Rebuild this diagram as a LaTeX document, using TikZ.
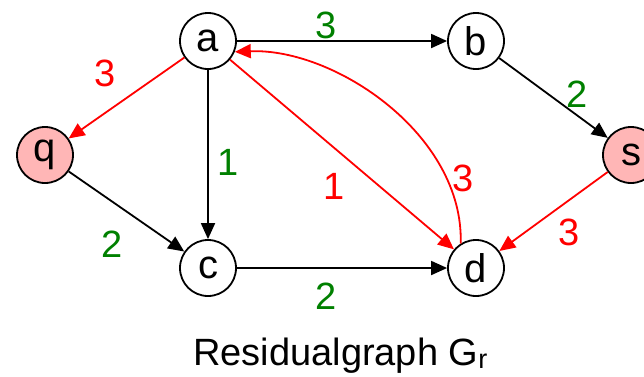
\documentclass[tikz,border=0pt]{standalone}
\usepackage{fontspec}
\setmainfont{Liberation Sans}
\usetikzlibrary{arrows.meta}
\definecolor{pinkfill}{RGB}{255,182,182}
\definecolor{lblgreen}{RGB}{0,128,0}
\definecolor{lblred}{RGB}{255,0,0}
\tikzset{
  bigfont/.style={font=\fontsize{38pt}{40pt}\selectfont},
  vert/.style={circle,draw=black,line width=1.8pt,minimum size=56pt,inner sep=0pt,font=\fontsize{40pt}{42pt}\selectfont,fill=white},
  endvert/.style={vert,fill=pinkfill},
  edgeblack/.style={draw=black,line width=1.8pt,-{Triangle[length=16pt,width=14pt]}},
  edgered/.style={draw=lblred,line width=1.8pt,-{Triangle[length=16pt,width=14pt]}},
  glabel/.style={bigfont,text=lblgreen,inner sep=0pt},
  rlabel/.style={bigfont,text=lblred,inner sep=0pt},
}
\begin{document}
\begin{tikzpicture}[x=1pt,y=-1pt]
\useasboundingbox (0,0) rectangle (644,376);
\node[vert] (a) at (208,41) {a};
\node[vert] (b) at (476,41) {b};
\node[endvert] (q) at (45,155) {q};
\node[endvert] (s) at (631,155) {s};
\node[vert] (c) at (208,268) {c};
\node[vert] (d) at (476,268) {d};

\draw[edgeblack] (a) -- (b);
\draw[edgeblack] (b) -- (s);
\draw[edgeblack] (a) -- (c);
\draw[edgeblack] (q) -- (c);
\draw[edgeblack] (c) -- (d);
\draw[edgered] (a) -- (q);
\draw[edgered] (a) -- (d);
\draw[edgered] (s) -- (d);
\draw[edgered] (d.122) .. controls (464,135) and (335,48) .. (a.-22);

\node[glabel] (l1) at (326,25) {3};
\node[glabel] (l2) at (577,94) {2};
\node[glabel] (l3) at (228,162) {1};
\node[glabel] (l4) at (112,244) {2};
\node[glabel] (l5) at (326,296) {2};
\node[rlabel] (l6) at (105,73) {3};
\node[rlabel] (l7) at (334,186) {1};
\node[rlabel] (l8) at (463,178) {3};
\node[rlabel] (l9) at (569,232) {3};

\node[bigfont,anchor=base west,inner sep=0pt] (cap) at (193,365) {Residualgraph G\raisebox{-3pt}{\fontsize{27pt}{27pt}\selectfont r}};
\end{tikzpicture}
\end{document}
